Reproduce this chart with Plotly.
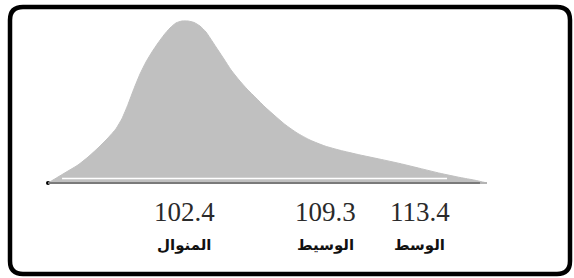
import plotly.graph_objects as go

# Schematic right-skewed distribution
# (x in arbitrary axis units 0..100, y = relative density, peak = 1)
curve_x = [0, 2.28, 4.56, 6.83, 9.11, 11.39, 13.67, 15.49, 16.86, 18.22, 19.59, 20.96,
           22.32, 23.69, 25.06, 26.42, 27.79, 29.16, 30.52, 31.89, 33.26, 34.62, 35.99,
           37.36, 38.72, 40.09, 41.69, 43.51, 45.33, 47.38, 49.43, 51.71, 53.99, 56.72,
           59.68, 63.10, 66.51, 71.07, 75.63, 80.18, 84.74, 89.29, 93.85, 97.27, 100]
curve_y = [0, 0.037, 0.074, 0.111, 0.160, 0.216, 0.278, 0.335, 0.398, 0.485, 0.583,
           0.673, 0.747, 0.809, 0.864, 0.914, 0.957, 0.988, 1.0, 1.0, 0.991, 0.969,
           0.932, 0.877, 0.821, 0.765, 0.698, 0.636, 0.580, 0.525, 0.469, 0.414, 0.361,
           0.309, 0.265, 0.228, 0.202, 0.173, 0.147, 0.120, 0.090, 0.060, 0.034, 0.017, 0]

tick_pos = [31.2, 63.1, 84.7]
tick_values = ["102.4", "109.3", "113.4"]
tick_names = ["المنوال", "الوسيط", "الوسط"]

W, H = 574, 278

fig = go.Figure()
fig.add_trace(go.Scatter(
    x=curve_x, y=curve_y, mode="lines", fill="tozeroy",
    fillcolor="#c0c0c0", line=dict(color="#c0c0c0", width=1, shape="spline", smoothing=0.5),
    hoverinfo="skip", showlegend=False))
fig.add_trace(go.Scatter(x=[curve_x[0]], y=[0], mode="markers",
                         marker=dict(color="black", size=4), showlegend=False, hoverinfo="skip"))

shapes = [
    dict(type="line", xref="x", yref="y", x0=curve_x[0], x1=98.4, y0=0, y1=0,
         line=dict(color="#7a7a7a", width=2)),
    dict(type="line", xref="x", yref="y", x0=98.4, x1=curve_x[-1], y0=0, y1=0,
         line=dict(color="#b4b4b4", width=2)),
    dict(type="line", xref="x", yref="y", x0=3.2, x1=90.9, y0=0.028, y1=0.028,
         line=dict(color="white", width=1.5)),
]

# rounded border box (pixel values -> paper)
L, T, R, B, r = 10, 7, 570, 274, 13
def px(x): return x / W
def py(y): return 1 - y / H
path = (f"M {px(L+r)},{py(T)} L {px(R-r)},{py(T)} Q {px(R)},{py(T)} {px(R)},{py(T+r)} "
        f"L {px(R)},{py(B-r)} Q {px(R)},{py(B)} {px(R-r)},{py(B)} "
        f"L {px(L+r)},{py(B)} Q {px(L)},{py(B)} {px(L)},{py(B-r)} "
        f"L {px(L)},{py(T+r)} Q {px(L)},{py(T)} {px(L+r)},{py(T)} Z")
shapes.append(dict(type="path", xref="paper", yref="paper", path=path,
                   line=dict(color="black", width=4.5), fillcolor="rgba(0,0,0,0)"))

annotations = []
for xp, v, n in zip(tick_pos, tick_values, tick_names):
    annotations.append(dict(x=xp, y=py(212), xref="x", yref="paper", text=v, showarrow=False,
                            xanchor="center", yanchor="middle",
                            font=dict(family="Liberation Serif", size=27, color="#2a2a2a")))
    annotations.append(dict(x=xp, y=py(245), xref="x", yref="paper", text=f"<b>{n}</b>",
                            showarrow=False, xanchor="center", yanchor="middle",
                            font=dict(family="DejaVu Sans", size=15, color="#111")))

fig.update_layout(
    width=W, height=H, margin=dict(l=0, r=0, t=0, b=0),
    paper_bgcolor="white", plot_bgcolor="white",
    xaxis=dict(range=[-48/4.39, (W-48)/4.39], visible=False, fixedrange=True),
    yaxis=dict(range=[(183-H)/162, 183/162], visible=False, fixedrange=True),
    shapes=shapes, annotations=annotations, showlegend=False)

fig.write_html("out.html", config={"displayModeBar": False},
               post_script="document.body.style.margin='0';")
